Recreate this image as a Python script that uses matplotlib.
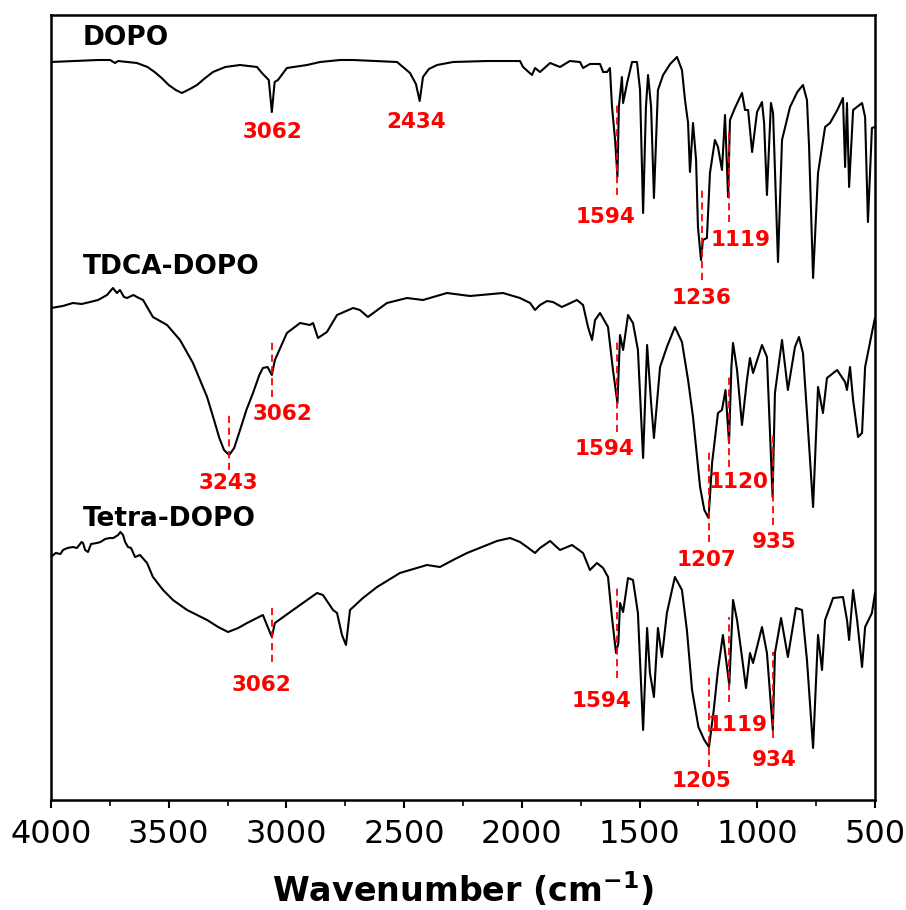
import matplotlib
matplotlib.use("Agg")
import matplotlib.pyplot as plt
from matplotlib.ticker import MultipleLocator

# FTIR spectra, values (wavenumber, offset intensity in a.u.)
dopo_wn = [4000, 3900, 3800, 3749, 3728, 3715, 3635, 3590, 3560, 3530, 3500, 3470, 3444,
           3410, 3380, 3345, 3312, 3260, 3197,
           3125, 3104, 3075, 3062, 3050, 3036, 2998, 2913, 2857, 2772, 2717, 2530, 2475,
           2450, 2434, 2420, 2395, 2360, 2292, 2148, 2008, 1995, 1957, 1944, 1923, 1880,
           1838, 1796,
           1753, 1740, 1711, 1668, 1655, 1638, 1626, 1617, 1604, 1594, 1588, 1575, 1570,
           1553, 1532, 1511, 1498, 1485, 1473, 1464, 1451, 1439, 1422, 1400, 1370, 1341,
           1320, 1307, 1294, 1286, 1273, 1260, 1252, 1239, 1231, 1214, 1201, 1180, 1167,
           1150, 1137, 1124, 1116, 1095, 1065, 1052, 1039, 1022, 1001, 980, 971, 959, 942,
           933, 912, 895, 861, 830, 806, 789, 780, 763, 742, 712, 691, 660, 636, 627, 619,
           610, 593, 555, 542, 530, 513, 500]
dopo_y = [738, 739, 740, 740, 737, 739, 737, 733, 728, 722, 715, 710, 707,
          711, 715, 722, 728, 733, 735,
          733, 727, 720, 688, 718, 720, 732, 735, 738, 740, 740, 738, 727,
          716, 699, 723, 731, 735, 738, 739, 739, 733, 725, 732, 728, 737,
          733, 739,
          738, 732, 736, 736, 728, 728, 732, 693, 660, 623, 693, 723, 697,
          717, 738, 738, 710, 587, 693, 725, 693, 602, 710, 725, 736, 743,
          730, 700, 677, 628, 677, 640, 573, 540, 560, 562, 627, 660, 653,
          630, 685, 603, 680, 692, 707, 690, 690, 648, 688, 698, 677, 605, 697,
          687, 538, 660, 693, 708, 715, 700, 653, 522, 627, 673, 677, 690, 702, 633, 697,
          613, 690, 697, 683, 578, 672, 673]

tdca_wn = [4000, 3950, 3907, 3870, 3834, 3800, 3762, 3737, 3720, 3707, 3690, 3677, 3650,
           3635, 3609, 3567, 3507, 3452, 3397, 3337, 3310, 3285, 3265, 3243, 3222, 3197,
           3170, 3142, 3115, 3100, 3080, 3062, 3049, 2998, 2942, 2900, 2887,
           2866, 2828, 2785, 2717, 2688, 2654, 2573, 2488, 2420, 2318, 2220, 2080, 2008,
           1965, 1944, 1923, 1893, 1868, 1830, 1766, 1740, 1719, 1702, 1689, 1668, 1634,
           1613, 1594, 1583, 1570, 1549, 1528, 1507, 1485, 1468, 1451, 1439, 1413, 1384,
           1350, 1320, 1294, 1273, 1243, 1225, 1207, 1192, 1167, 1150, 1135, 1120, 1110,
           1103, 1086, 1065, 1044, 1031, 1018, 980, 959, 935, 925, 895, 870, 840, 823, 806,
           785, 763, 742, 721, 704, 661, 627, 619, 606, 593, 572, 555, 542, 509, 500]
tdca_y = [492, 494, 497, 496, 498, 500, 505, 512, 507, 510, 503, 502, 505,
          503, 500, 483, 475, 460, 437, 403, 382, 362, 350, 345, 352, 370,
          390, 407, 425, 432, 433, 425, 440, 467, 477, 475, 477,
          462, 468, 485, 492, 490, 483, 497, 502, 500, 507, 504, 507, 502,
          497, 490, 495, 499, 498, 493, 500, 495, 473, 460, 480, 487, 473,
          430, 397, 465, 450, 485, 477, 450, 342, 455, 397, 362, 433, 453,
          473, 458, 420, 383, 313, 290, 282, 337, 387, 390, 410, 357, 433,
          457, 430, 375, 420, 442, 427, 455, 443, 303, 407, 460, 410, 453, 463, 447,
          373, 293, 413, 387, 422, 430, 418, 410, 433, 400, 363, 367, 433, 472, 482]

tetra_wn = [4000, 3980, 3960, 3949, 3930, 3907, 3890, 3870, 3864, 3855, 3843, 3830, 3805,
            3790, 3770, 3749, 3735, 3715, 3705, 3694, 3685, 3673, 3660, 3643, 3622, 3592,
            3567, 3524, 3482, 3422, 3337, 3290, 3248, 3205, 3167, 3100, 3062, 3049, 2972,
            2870, 2845, 2802, 2785, 2764, 2747, 2730, 2675, 2615, 2518, 2403, 2348, 2292,
            2233, 2148, 2106, 2050, 2008, 1978, 1944, 1923, 1880, 1838, 1787, 1740, 1711,
            1681, 1655, 1634, 1617, 1600, 1590, 1583, 1570, 1549, 1528, 1507, 1485, 1468,
            1456, 1439, 1422, 1405, 1384, 1350, 1320, 1299, 1277, 1250, 1225, 1205, 1185,
            1167, 1146, 1119, 1103, 1086, 1065, 1048, 1031, 1018, 980, 959, 934, 925, 899,
            870, 836, 810, 789, 763, 742, 725, 712, 678, 636, 619, 610, 593, 576, 555, 542,
            513, 500]
tetra_y = [243, 247, 246, 250, 252, 253, 252, 258, 257, 250, 248, 256, 257,
           258, 261, 262, 262, 265, 268, 265, 258, 253, 252, 243, 245, 237,
           223, 210, 200, 190, 180, 173, 168, 172, 177, 185, 163, 177, 190,
           207, 205, 190, 187, 165, 155, 190, 202, 213, 227, 235, 233, 240,
           247, 255, 259, 262, 258, 253, 247, 252, 259, 250, 255, 247, 230,
           237, 232, 223, 182, 147, 157, 197, 188, 222, 220, 187, 70, 172,
           127, 103, 172, 143, 187, 223, 210, 170, 110, 73, 60, 53, 90,
           130, 165, 115, 200, 180, 143, 112, 147, 137, 173, 147, 70, 147, 182,
           143, 192, 190, 140, 52, 165, 130, 180, 202, 203, 180, 160, 210, 180, 133, 173,
           187, 207]

names = ["DOPO", "TDCA-DOPO", "Tetra-DOPO"]
name_y = [762, 533, 281]

# peak marks: (wavenumber, label x, label y, dash bottom, dash top)
dopo_peaks = [(3062, 3061, 668, None, None), (2434, 2450, 678, None, None),
              (1594, 1647, 583, 605, 698), (1236, 1235, 502, 520, 612),
              (1119, 1069, 560, 578, 672)]
tdca_peaks = [(3243, 3248, 317, 330, 385), (3062, 3015, 386, 403, 460),
              (1594, 1651, 351, 368, 460), (1207, 1214, 240, 258, 350),
              (1120, 1078, 318, 333, 425), (935, 929, 258, 275, 368)]
tetra_peaks = [(3062, 3104, 115, 138, 195), (1594, 1660, 99, 122, 215),
               (1205, 1239, 19, 33, 127), (1119, 1082, 75, 98, 183),
               (934, 929, 40, 62, 148)]

fig = plt.figure(figsize=(9.06, 9.10), dpi=100)
ax = fig.add_axes((51/906, 110/910, 824/906, 785/910))

for wn, y in [(dopo_wn, dopo_y), (tdca_wn, tdca_y), (tetra_wn, tetra_y)]:
    ax.plot(wn, y, color='black', lw=1.5, solid_joinstyle='round')

for name, y in zip(names, name_y):
    ax.text(3864, y, name, fontsize=19, fontweight='bold', ha='left', va='center')

for peaks in [dopo_peaks, tdca_peaks, tetra_peaks]:
    for wn, tx, ty, y0, y1 in peaks:
        if y0 is not None:
            ax.plot([wn, wn], [y0, y1], color='red', lw=1.3, ls=(0, (4, 2.5)))
        ax.text(tx, ty, str(wn), color='red', fontsize=15.5, fontweight='bold',
                ha='center', va='center')

ax.set_xlim(4000, 500)
ax.set_ylim(0, 785)
ax.set_yticks([])
ax.xaxis.set_major_locator(MultipleLocator(500))
ax.xaxis.set_minor_locator(MultipleLocator(250))
ax.tick_params(axis='x', which='major', direction='out', length=6, width=1.5,
               labelsize=23, pad=8)
ax.tick_params(axis='x', which='minor', direction='out', length=4, width=1.2)
for s in ax.spines.values():
    s.set_linewidth(1.8)
ax.set_xlabel(r'Wavenumber (cm$^{\mathbf{-1}}$)', fontsize=24, fontweight='bold',
              labelpad=14)

fig.savefig('out.png', dpi=100)
